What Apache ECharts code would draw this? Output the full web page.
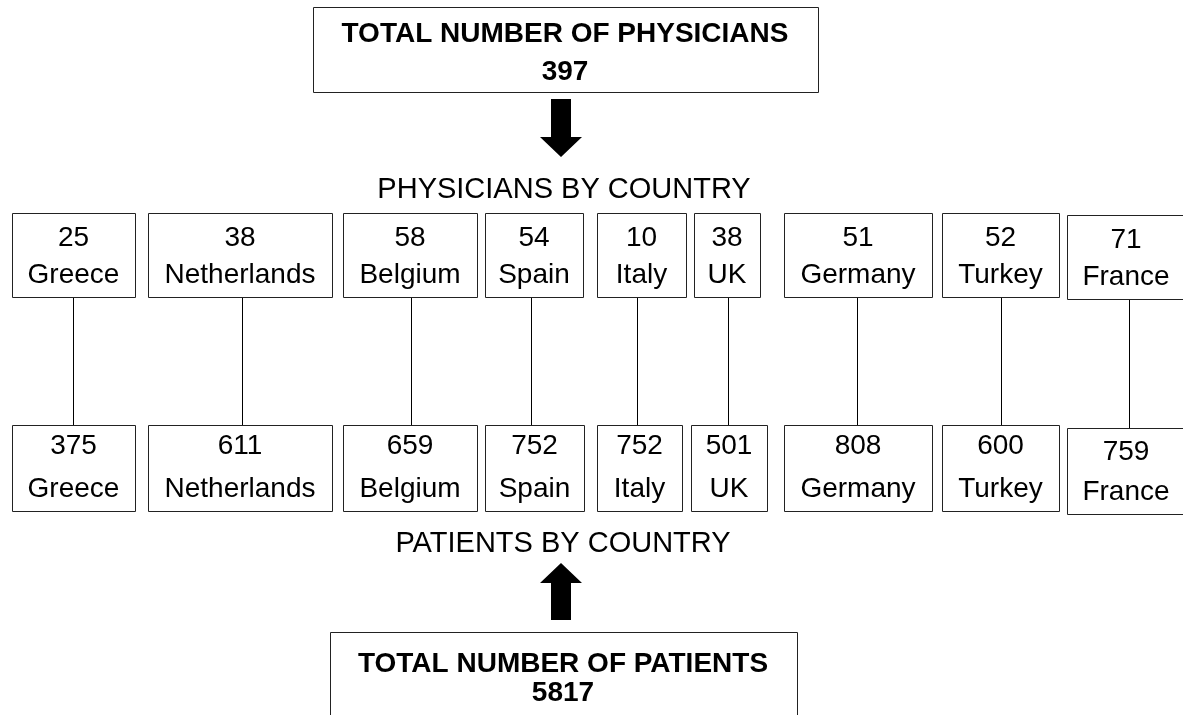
<!DOCTYPE html>
<html>
<head>
<meta charset="utf-8">
<script src="https://cdn.jsdelivr.net/npm/echarts@6/dist/echarts.min.js"></script>
<style>
  html, body { margin: 0; padding: 0; background: #fff; }
  #main { width: 1183px; height: 715px; }
</style>
</head>
<body>
<div id="main"></div>
<script>
// data
const countries = ['Greece', 'Netherlands', 'Belgium', 'Spain', 'Italy', 'UK', 'Germany', 'Turkey', 'France']
const physicians = [25, 38, 58, 54, 10, 38, 51, 52, 71]
const patients = [375, 611, 659, 752, 752, 501, 808, 600, 759]
const totalPhysicians = 397
const totalPatients = 5817
const physicianTitle = 'TOTAL NUMBER OF PHYSICIANS'
const patientTitle = 'TOTAL NUMBER OF PATIENTS'
const physicianHeader = 'PHYSICIANS BY COUNTRY'
const patientHeader = 'PATIENTS BY COUNTRY'

// layout (canvas pixel units, mapped through the hidden value axes)
const topBoxes = [[12, 135], [148, 332], [343, 477], [485, 583], [597, 686], [694, 760], [784, 932], [942, 1059], [1067, 1190]]
const bottomBoxes = [[12, 135], [148, 332], [343, 477], [485, 584], [597, 682], [691, 767], [784, 932], [942, 1059], [1067, 1190]]
const linkX = [73, 242, 411, 531, 637, 728, 857, 1001, 1129]

const FONT = '"Liberation Sans", Arial, sans-serif'
const STROKE = '#222'

var myChart = echarts.init(document.getElementById('main'))

function label(api, text, x, y, size, bold) {
    let p = api.coord([x, y])
    return {
        type: 'text',
        style: {
            text: String(text), x: p[0], y: p[1],
            fill: '#000', fontSize: size, fontFamily: FONT,
            fontWeight: bold ? 'bold' : 'normal',
            align: 'center', verticalAlign: 'middle'
        }
    }
}

function box(api, x0, x1, y0, y1) {
    let a = api.coord([x0, y0])
    let b = api.coord([x1, y1])
    return {
        type: 'rect',
        shape: { x: Math.round(a[0]) + 0.5, y: Math.round(a[1]) + 0.5, width: Math.round(b[0] - a[0]), height: Math.round(b[1] - a[1]) },
        style: { fill: '#fff', stroke: STROKE, lineWidth: 1 }
    }
}

// one item per country: two boxes and the connecting line
function renderCountry(params, api) {
    let i = api.value(0)
    let t = topBoxes[i], b = bottomBoxes[i]
    let top0 = i === 8 ? 215 : 213
    let bot0 = i === 8 ? 428 : 425
    let l0 = api.coord([linkX[i], top0 + 84])
    let l1 = api.coord([linkX[i], bot0])
    let cxT = (t[0] + Math.min(t[1], 1183)) / 2
    let cxB = (b[0] + Math.min(b[1], 1183)) / 2
    if (i === 8) { cxT = 1126; cxB = 1126 }
    let numOffB = i === 8 ? 24 : 21
    return {
        type: 'group',
        children: [
            {
                type: 'line',
                shape: { x1: Math.round(l0[0]) + 0.5, y1: l0[1], x2: Math.round(l1[0]) + 0.5, y2: l1[1] },
                style: { stroke: '#000', lineWidth: 1 }
            },
            box(api, t[0], t[1], top0, top0 + 84),
            label(api, physicians[i], cxT, top0 + 25, 28),
            label(api, countries[i], cxT, top0 + 62, 28),
            box(api, b[0], b[1], bot0, bot0 + 86),
            label(api, patients[i], cxB, bot0 + numOffB, 28),
            label(api, countries[i], cxB, bot0 + 64, 28)
        ]
    }
}

// item 0: physicians summary, item 1: patients summary
function renderSummary(params, api) {
    let k = api.value(0)
    let pts = k === 0
        ? [[551, 99], [571, 99], [571, 137], [582, 137], [561, 157], [540, 137], [551, 137]]
        : [[551, 620], [571, 620], [571, 583], [582, 583], [561, 563], [540, 583], [551, 583]]
    let arrow = {
        type: 'polygon',
        shape: { points: pts.map(q => api.coord(q)) },
        style: { fill: '#000' }
    }
    if (k === 0) {
        return {
            type: 'group',
            children: [
                box(api, 313, 818, 7, 92),
                label(api, physicianTitle, 565, 34, 28, true),
                label(api, totalPhysicians, 565, 72, 28, true),
                arrow,
                label(api, physicianHeader, 564, 190, 29)
            ]
        }
    }
    return {
        type: 'group',
        children: [
            label(api, patientHeader, 563, 544, 29),
            arrow,
            box(api, 330, 797, 632, 730),
            label(api, patientTitle, 563, 664, 28, true),
            label(api, totalPatients, 563, 693, 28, true)
        ]
    }
}

var option = {
    animation: false,
    grid: { left: 0, right: 0, top: 0, bottom: 0 },
    xAxis: { type: 'value', min: 0, max: 1183, show: false },
    yAxis: { type: 'value', min: 0, max: 715, inverse: true, show: false },
    series: [
        {
            type: 'custom',
            renderItem: renderCountry,
            data: countries.map((c, i) => [i]),
            clip: false
        },
        {
            type: 'custom',
            renderItem: renderSummary,
            data: [[0], [1]],
            clip: false
        }
    ]
}

myChart.setOption(option)
</script>
</body>
</html>
